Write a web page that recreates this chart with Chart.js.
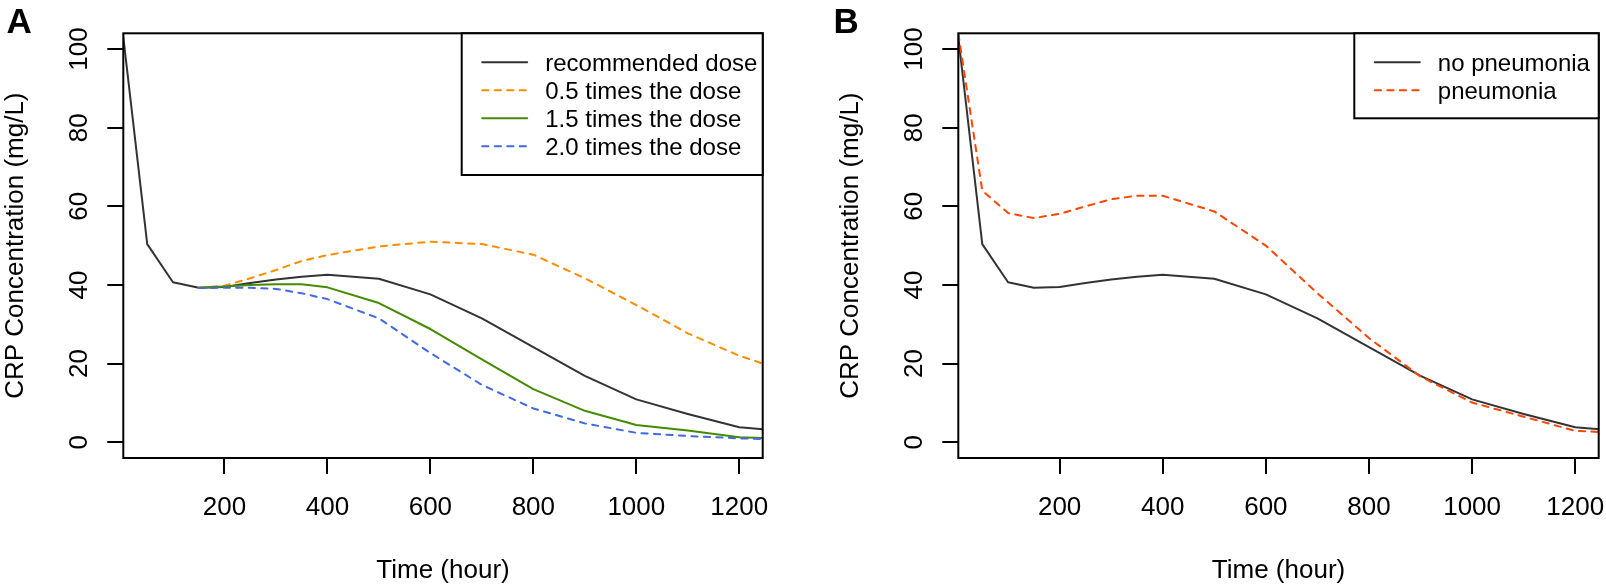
<!DOCTYPE html>
<html>
<head>
<meta charset="utf-8">
<script src="https://cdn.jsdelivr.net/npm/chart.js@4/dist/chart.umd.min.js"></script>
<style>
  html, body { margin: 0; padding: 0; background: #fff; overflow: hidden; }
  #wrap { position: relative; width: 1606px; height: 586px; }
  canvas { position: absolute; top: 0; }
</style>
</head>
<body>
<div id="wrap">
  <canvas id="cA" width="803" height="586" style="left:0;width:803px;height:586px"></canvas>
  <canvas id="cB" width="803" height="586" style="left:803px;width:803px;height:586px"></canvas>
</div>
<script>
// ---------------- data ----------------
const xTicks = [200, 400, 600, 800, 1000, 1200];
const yTicks = [0, 20, 40, 60, 80, 100];
const xTitle = 'Time (hour)';
const yTitle = 'CRP Concentration (mg/L)';

const timeFull = [0, 50, 100, 150, 200, 250, 300, 350, 400, 500, 600, 700, 800, 900, 1000, 1100, 1200, 1250];
const timeDose = [150, 200, 250, 300, 350, 400, 500, 600, 700, 800, 900, 1000, 1100, 1200, 1250];

const recommended = [107, 50.4, 40.7, 39.3, 39.5, 40.5, 41.4, 42.1, 42.6, 41.6, 37.6, 31.5, 24.2, 16.9, 10.9, 7.2, 3.8, 3.3];
const dose05 = [39.3, 39.8, 41.7, 43.8, 46.1, 47.6, 49.8, 51.0, 50.4, 47.7, 41.7, 34.9, 27.7, 22.0, 19.8];
const dose15 = [39.3, 39.6, 40.0, 40.2, 40.2, 39.4, 35.4, 28.8, 21.1, 13.5, 8.0, 4.4, 3.0, 1.3, 1.1];
const dose20 = [39.2, 39.3, 39.3, 39.0, 37.9, 36.4, 31.5, 22.7, 14.6, 8.6, 4.8, 2.4, 1.6, 1.0, 0.8];

const noPneumonia = recommended;
const pneumonia = [107, 64.0, 58.3, 57.0, 58.1, 60.0, 61.8, 62.7, 62.7, 58.7, 50.0, 37.9, 26.5, 16.7, 10.1, 6.5, 2.9, 2.6];

const labelsA = ['recommended dose', '0.5 times the dose', '1.5 times the dose', '2.0 times the dose'];
const labelsB = ['no pneumonia', 'pneumonia'];

// ---------------- helpers ----------------
const FONT = '"Liberation Sans", Arial, Helvetica, sans-serif';
const pts = (ts, vs) => ts.map((t, i) => ({ x: t, y: vs[i] }));
const DASH = [6.25, 6.25];

function ds(label, ts, vs, color, dashed, order) {
  return {
    label, data: pts(ts, vs), borderColor: color, borderWidth: 2,
    borderDash: dashed ? DASH : [], borderCapStyle: 'round', borderJoinStyle: 'round',
    pointRadius: 0, tension: 0, fill: false, order
  };
}

function panelPlugin(cfg) {
  return {
    id: 'panel' + cfg.letter,
    afterDraw(chart) {
      const ctx = chart.ctx, a = chart.chartArea;
      const xs = chart.scales.x, ys = chart.scales.y;
      ctx.save();
      // frame
      ctx.strokeStyle = '#000'; ctx.lineWidth = 2; ctx.setLineDash([]);
      ctx.strokeRect(a.left, a.top, a.right - a.left, a.bottom - a.top);
      // tick labels and titles
      ctx.fillStyle = '#000';
      ctx.font = '26px ' + FONT;
      ctx.textAlign = 'center'; ctx.textBaseline = 'alphabetic';
      xTicks.forEach(v => ctx.fillText(String(v), xs.getPixelForValue(v), 515));
      ctx.fillText(xTitle, (a.left + a.right) / 2, 577.5);
      yTicks.forEach(v => {
        ctx.save();
        ctx.translate(a.left - 36.6, ys.getPixelForValue(v));
        ctx.rotate(-Math.PI / 2);
        ctx.fillText(String(v), 0, 0);
        ctx.restore();
      });
      ctx.save();
      ctx.translate(a.left - 100, (a.top + a.bottom) / 2);
      ctx.rotate(-Math.PI / 2);
      ctx.fillText(yTitle, 0, 0);
      ctx.restore();
      // panel letter
      ctx.font = 'bold 35px ' + FONT;
      ctx.textAlign = 'left';
      ctx.fillText(cfg.letter, cfg.letterX, 33.3);
      // legend
      const bx = a.right - cfg.legendW, by = a.top;
      ctx.fillStyle = '#fff';
      ctx.fillRect(bx, by, cfg.legendW, cfg.legendH);
      ctx.strokeStyle = '#000'; ctx.lineWidth = 2;
      ctx.strokeRect(bx, by, cfg.legendW, cfg.legendH);
      ctx.font = '24px ' + FONT;
      chart.data.datasets.forEach((d, i) => {
        const ry = by + 29 + 28 * i;
        ctx.save();
        ctx.strokeStyle = d.borderColor; ctx.lineWidth = d.borderWidth;
        ctx.lineCap = 'round';
        ctx.setLineDash(d.borderDash || []);
        ctx.beginPath(); ctx.moveTo(bx + 20.5, ry); ctx.lineTo(bx + 65.5, ry); ctx.stroke();
        ctx.restore();
        ctx.fillStyle = '#000';
        ctx.textAlign = 'left';
        ctx.fillText(d.label, bx + 83.5, ry + 8.3);
      });
      ctx.restore();
    }
  };
}

function makeChart(id, datasets, cfg) {
  return new Chart(document.getElementById(id), {
    type: 'line',
    data: { datasets },
    options: {
      responsive: false, animation: false, devicePixelRatio: 1,
      layout: { padding: { left: 0, top: 33.3, right: cfg.padRight, bottom: 0 } },
      plugins: { legend: { display: false }, tooltip: { enabled: false } },
      scales: {
        x: {
          type: 'linear', min: 3.5, max: 1245.5,
          afterBuildTicks: s => { s.ticks = xTicks.map(v => ({ value: v })); },
          afterFit: s => { s.height = 128; },
          ticks: { display: false },
          grid: { drawOnChartArea: false, drawTicks: true, tickLength: 16, color: '#000', lineWidth: 2 },
          border: { display: false }
        },
        y: {
          type: 'linear', min: -4, max: 104,
          afterBuildTicks: s => { s.ticks = yTicks.map(v => ({ value: v })); },
          afterFit: s => { s.width = cfg.left; },
          ticks: { display: false },
          grid: { drawOnChartArea: false, drawTicks: true, tickLength: 16, color: '#000', lineWidth: 2 },
          border: { display: false }
        }
      }
    },
    plugins: [panelPlugin(cfg)]
  });
}

makeChart('cA', [
  ds(labelsA[0], timeFull, recommended, '#333333', false, 4),
  ds(labelsA[1], timeDose, dose05, '#FF8C00', true, 3),
  ds(labelsA[2], timeDose, dose15, '#458B00', false, 2),
  ds(labelsA[3], timeDose, dose20, '#4169E1', true, 1)
], { letter: 'A', letterX: 6.5, left: 123.3, padRight: 40.3, legendW: 301, legendH: 141.7 });

makeChart('cB', [
  ds(labelsB[0], timeFull, noPneumonia, '#333333', false, 2),
  ds(labelsB[1], timeFull, pneumonia, '#FF4500', true, 1)
], { letter: 'B', letterX: 30.5, left: 155.3, padRight: 7.3, legendW: 244.4, legendH: 85 });
</script>
</body>
</html>
